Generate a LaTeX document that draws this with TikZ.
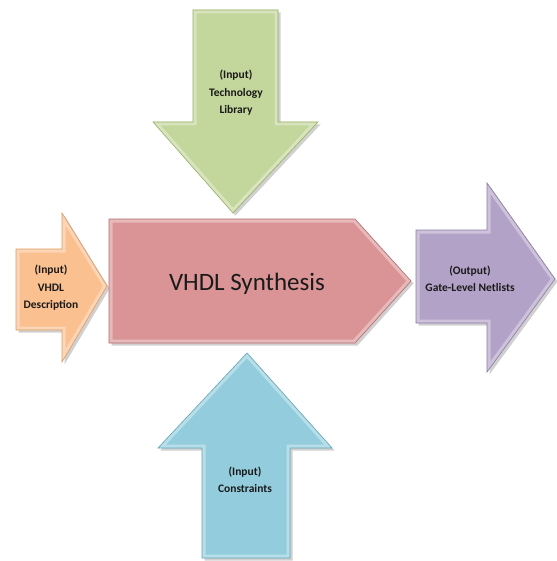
\documentclass[tikz,border=0pt]{standalone}
\usepackage{fontspec}
\setmainfont{Carlito}
\usetikzlibrary{shadows}
\definecolor{gfill}{HTML}{C3D69B}\definecolor{gline}{HTML}{98AE62}
\definecolor{bfill}{HTML}{93CDDD}\definecolor{bline}{HTML}{5FA6BC}
\definecolor{rfill}{HTML}{DA9496}\definecolor{rline}{HTML}{B86A6C}
\definecolor{ofill}{HTML}{FAC090}\definecolor{oline}{HTML}{DE9C62}
\definecolor{pfill}{HTML}{B3A2C7}\definecolor{pline}{HTML}{8C7AA6}
\definecolor{txt}{HTML}{1A1A1A}
\newcommand{\bevelarrow}[3]{%
  \fill[#1, drop shadow={shadow xshift=2.5pt,shadow yshift=-2.5pt,opacity=.3,fill=black!60}] #3 -- cycle;
  \begin{scope}
    \clip #3 -- cycle;
    \draw[white, opacity=.35, line width=7pt, line join=miter] #3 -- cycle;
  \end{scope}
  \draw[#2, line width=0.6pt, line join=miter] #3 -- cycle;
}
\tikzset{
  small/.style={font=\fontsize{11.5}{17.5}\selectfont\bfseries, text=txt, align=center, inner sep=0pt},
  big/.style={font=\fontsize{25}{30}\selectfont, text=txt, inner sep=0pt}
}
\begin{document}
\begin{tikzpicture}[x=1pt,y=-1pt]
\useasboundingbox (0,0) rectangle (556,561);
\fill[white] (0,0) rectangle (556,561);
% green (top)
\bevelarrow{gfill}{gline}{(193,10) -- (278,10) -- (278,122) -- (318,122) -- (233,213) -- (153,122) -- (193,122)}
% blue (bottom)
\bevelarrow{bfill}{bline}{(202,558) -- (290,558) -- (290,448) -- (332,448) -- (247,353) -- (158,448) -- (202,448)}
% orange (left)
\bevelarrow{ofill}{oline}{(16,249) -- (62,249) -- (62,213) -- (107,286) -- (62,362) -- (62,330) -- (16,330)}
% red (centre)
\bevelarrow{rfill}{rline}{(109,219) -- (355,219) -- (411,281) -- (355,343) -- (109,343)}
% purple (right)
\bevelarrow{pfill}{pline}{(416,230) -- (487,230) -- (487,183) -- (555,279) -- (487,372) -- (487,323) -- (416,323)}
% texts
\node[small] (tech) at (236,93) {(Input)\\Technology\\Library};
\node[small] (vhdl) at (51,288) {(Input)\\VHDL\\Description};
\node[big] (synth) at (247,284) {VHDL Synthesis};
\node[small] (out) at (470,279) {(Output)\\Gate-Level Netlists};
\node[small] (cons) at (245,480) {(Input)\\Constraints};
\end{tikzpicture}
\end{document}
